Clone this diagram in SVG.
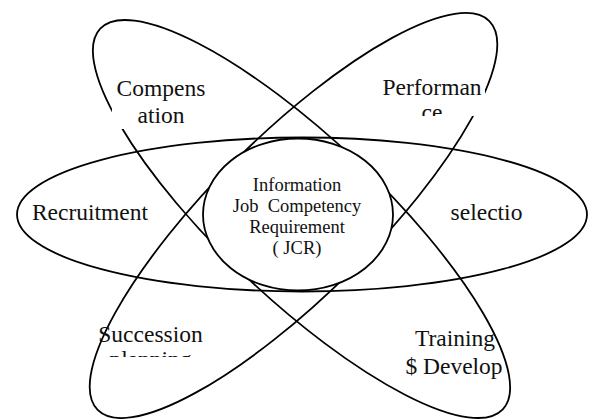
<svg xmlns="http://www.w3.org/2000/svg" width="593" height="419" viewBox="0 0 593 419">
<style>
.ell{fill:none;stroke:#000;stroke-width:1.8}
.core{fill:#fff;stroke:#000;stroke-width:1.8}
.box{fill:#fff;stroke:none}
.lbl{font-family:"Liberation Serif","Times New Roman",serif;font-size:23.5px;fill:#111;text-anchor:middle}
.ctr{font-family:"Liberation Serif","Times New Roman",serif;font-size:18.5px;fill:#111;text-anchor:middle;white-space:pre}
</style>
<defs>
<clipPath id="clipPerf"><rect x="376" y="66" width="109" height="50"/></clipPath>
<clipPath id="clipSucc"><rect x="90" y="318" width="125" height="39"/></clipPath>
</defs>
<g id="connectors">
<ellipse class="ell" cx="302" cy="214.5" rx="285" ry="77"/>
<ellipse class="ell" cx="301.5" cy="219" rx="277" ry="80" transform="rotate(43.4 301.5 219)"/>
<ellipse class="ell" cx="293.5" cy="215.5" rx="276" ry="80" transform="rotate(-44.8 293.5 215.5)"/>
</g>
<g id="center">
<ellipse class="core" cx="298" cy="214.5" rx="95" ry="76"/>
<text class="ctr" x="297" y="191">Information</text>
<text class="ctr" x="297" y="212" xml:space="preserve">Job  Competency</text>
<text class="ctr" x="297" y="233">Requirement</text>
<text class="ctr" x="297" y="254">( JCR)</text>
</g>
<g id="compensation">
<rect class="box" x="112" y="74" width="100" height="55"/>
<text class="lbl" x="161" y="96">Compens</text>
<text class="lbl" x="161" y="123">ation</text>
</g>
<g id="performance">
<rect class="box" x="378" y="68" width="107" height="48"/>
<g clip-path="url(#clipPerf)">
<text class="lbl" x="432" y="95">Performan</text>
<text class="lbl" x="432" y="120">ce</text>
</g>
</g>
<g id="recruitment">
<text class="lbl" x="90" y="220">Recruitment</text>
</g>
<g id="selection">
<text class="lbl" x="486.5" y="220">selectio</text>
</g>
<g id="succession">
<g clip-path="url(#clipSucc)">
<text class="lbl" x="150.5" y="342">Succession</text>
<text class="lbl" x="150.5" y="367">planning</text>
</g>
</g>
<g id="training">
<text class="lbl" x="455" y="346">Training</text>
<text class="lbl" x="454" y="374">$ Develop</text>
</g>
</svg>
